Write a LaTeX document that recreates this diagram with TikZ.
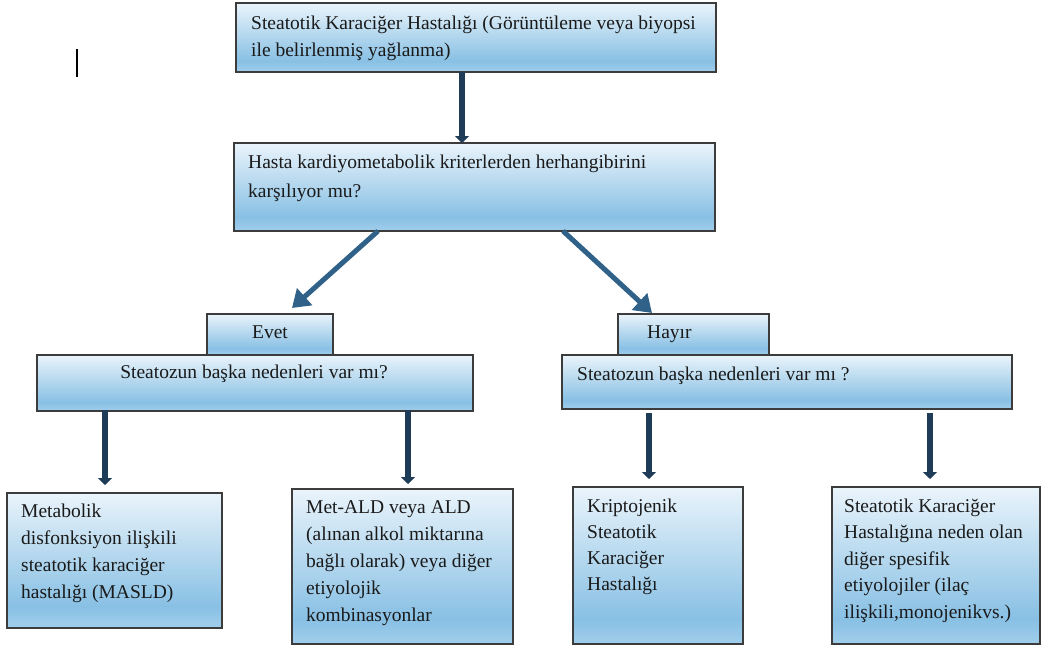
\documentclass[tikz,border=0pt]{standalone}
\usepackage{fontspec}
\setmainfont{Liberation Serif}
\usetikzlibrary{arrows.meta,calc}
\definecolor{gtop}{HTML}{EAF4FB}
\definecolor{gmid}{HTML}{88C0E4}
\definecolor{gbot}{HTML}{A2CEEC}
\definecolor{navy}{HTML}{1E3B58}
\definecolor{steel}{HTML}{2F6189}
\definecolor{edge}{HTML}{3C3C3C}
\definecolor{ink}{HTML}{1A1A1A}
\pgfdeclareverticalshading{wordblue}{100bp}{color(0bp)=(gbot); color(25bp)=(gbot); color(33bp)=(gmid); color(75bp)=(gtop); color(100bp)=(gtop)}
\newcommand{\mytxt}[3]{\parbox[t]{#1}{\raggedright\fontsize{19.5}{#2}\selectfont #3}}
\begin{document}
\begin{tikzpicture}[x=1pt,y=-1pt,
  box/.style={draw=edge, line width=1.1pt, shade, shading=wordblue, rectangle, inner sep=0pt, outer sep=0pt, anchor=north west},
  txt/.style={anchor=base west, inner sep=0pt, text=ink},
  ctxt/.style={anchor=base, inner sep=0pt, text=ink},
  varrow/.style={draw=navy, line width=5.5pt, -{Triangle[length=7pt,width=14pt]}},
  darrow/.style={draw=steel, line width=5pt, -{Triangle[length=17pt,width=22pt]}}]
\fill[white] (0,0) rectangle (1041,648);
\useasboundingbox (0,0) rectangle (1041,648);
% cursor mark
\draw[line width=2pt, black] (77,49) -- (77,77);
% boxes
\node[box, minimum width=480pt, minimum height=69pt] (n1) at (236,3) {};
\node[box, minimum width=481pt, minimum height=88pt] (n2) at (234,143) {};
\node[box, minimum width=126pt, minimum height=41pt] (evet) at (207,314) {};
\node[box, minimum width=436pt, minimum height=56pt] (m1) at (37,355) {};
\node[box, minimum width=151pt, minimum height=41pt] (hayir) at (618,314) {};
\node[box, minimum width=450pt, minimum height=54pt] (m2) at (562,355) {};
\node[box, minimum width=215pt, minimum height=135pt] (b1) at (7,493) {};
\node[box, minimum width=221pt, minimum height=155pt] (b2) at (292,489) {};
\node[box, minimum width=170pt, minimum height=157pt] (b3) at (573,487) {};
\node[box, minimum width=208pt, minimum height=157pt] (b4) at (832,487) {};
% texts
\node[txt] (t1) at (251,29) {\mytxt{470pt}{27}{Steatotik Karaciğer Hastalığı (Görüntüleme veya biyopsi\\ile belirlenmiş yağlanma)}};
\node[txt] (t2) at (248,168) {\mytxt{470pt}{29}{Hasta kardiyometabolik kriterlerden herhangibirini\\karşılıyor mu?}};
\node[ctxt] (tevet) at (270,338) {\fontsize{19.5}{27}\selectfont Evet};
\node[ctxt] (tm1) at (254,378) {\fontsize{19.5}{27}\selectfont Steatozun başka nedenleri var mı?};
\node[txt] (thayir) at (647,338) {\fontsize{19.5}{27}\selectfont Hayır};
\node[txt] (tm2) at (577,380) {\fontsize{19.5}{27}\selectfont Steatozun başka nedenleri var mı ?};
\node[txt] (tb1) at (21,517) {\mytxt{200pt}{27}{Metabolik\\disfonksiyon ilişkili\\steatotik karaciğer\\hastalığı (MASLD)}};
\node[txt] (tb2) at (306,513) {\mytxt{205pt}{27}{Met-ALD veya ALD\\(alınan alkol miktarına\\bağlı olarak) veya diğer\\etiyolojik\\kombinasyonlar}};
\node[txt] (tb3) at (587,512) {\mytxt{150pt}{26}{Kriptojenik\\Steatotik\\Karaciğer\\Hastalığı}};
\node[txt] (tb4) at (844,512) {\mytxt{195pt}{26.5}{Steatotik Karaciğer\\Hastalığına neden olan\\diğer spesifik\\etiyolojiler (ilaç\\ilişkili,monojenikvs.)}};
% connectors
\draw[varrow] ($(n1.south west)+(226,0)$) -- ($(n2.north west)+(228,0)$);
\draw[darrow] ($(n2.south west)+(144,0)$) -- ($(evet.north west)+(85,-6)$);
\draw[darrow] ($(n2.south west)+(329,0)$) -- ($(hayir.north west)+(34,-1)$);
\draw[varrow] ($(m1.south west)+(68,-1)$) -- ($(b1.north west)+(98,-8)$);
\draw[varrow] ($(m1.south west)+(371,-1)$) -- ($(b2.north west)+(116,-5)$);
\draw[varrow] ($(m2.south west)+(87,4)$) -- ($(b3.north west)+(76,-8)$);
\draw[varrow] ($(m2.south west)+(368,4)$) -- ($(b4.north west)+(98,-8)$);
\end{tikzpicture}
\end{document}
